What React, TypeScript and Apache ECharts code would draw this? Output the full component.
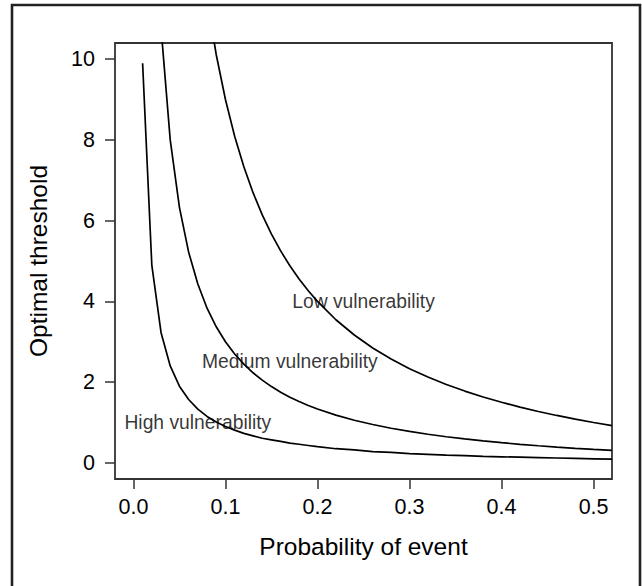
import React, { useEffect, useRef } from "react";
import * as echarts from "echarts";

// Probability of event (x values)
const probabilities = [
  0.01, 0.02, 0.03, 0.04, 0.05, 0.06, 0.07, 0.08, 0.09, 0.1,
  0.11, 0.12, 0.13, 0.14, 0.15, 0.16, 0.17, 0.18, 0.19, 0.2,
  0.22, 0.24, 0.26, 0.28, 0.3, 0.32, 0.34, 0.36, 0.38, 0.4,
  0.42, 0.44, 0.46, 0.48, 0.5, 0.52,
];

// Optimal threshold
const highVulnerability = [
  9.9, 4.9, 3.23, 2.4, 1.9, 1.57, 1.33, 1.15, 1.01, 0.9,
  0.81, 0.73, 0.67, 0.61, 0.57, 0.53, 0.49, 0.46, 0.43, 0.4,
  0.35, 0.32, 0.28, 0.26, 0.23, 0.21, 0.19, 0.18, 0.16, 0.15,
  0.14, 0.13, 0.12, 0.11, 0.1, 0.09,
];
const mediumVulnerability = [
  33.0, 16.33, 10.78, 8.0, 6.33, 5.22, 4.43, 3.83, 3.37, 3.0,
  2.697, 2.444, 2.231, 2.048, 1.889, 1.75, 1.627, 1.519, 1.421, 1.333,
  1.182, 1.056, 0.949, 0.857, 0.778, 0.708, 0.647, 0.593, 0.544, 0.5,
  0.46, 0.424, 0.391, 0.361, 0.333, 0.308,
];
const lowVulnerability = [
  99, 49, 32.33, 24, 19, 15.67, 13.29, 11.5, 10.11, 9.0,
  8.091, 7.333, 6.692, 6.143, 5.667, 5.25, 4.882, 4.556, 4.263, 4.0,
  3.545, 3.167, 2.846, 2.571, 2.333, 2.125, 1.941, 1.778, 1.632, 1.5,
  1.381, 1.273, 1.174, 1.083, 1.0, 0.923,
];

// Curve labels
const labelNames = ["Low vulnerability", "Medium vulnerability", "High vulnerability"];
const labelX = [0.25, 0.17, 0.07];
const labelY = [4, 2.5, 1];

// Tick values
const xTicks = [0, 0.1, 0.2, 0.3, 0.4, 0.5];
const yTicks = [0, 2, 4, 6, 8, 10];

const FONT = "'Liberation Sans', Arial, Helvetica, sans-serif";

export default function App() {
  const ref = useRef<HTMLDivElement>(null);

  useEffect(() => {
    if (!ref.current) return;
    const chart = echarts.init(ref.current, undefined, { renderer: "svg" });

    const toPairs = (ys: number[]) => probabilities.map((p, i) => [p, ys[i]]);
    const lineSeries = (name: string, ys: number[]) => ({
      name,
      type: "line",
      data: toPairs(ys),
      showSymbol: false,
      symbol: "none",
      clip: true,
      smooth: false,
      lineStyle: { color: "#000", width: 1.7 },
      z: 3,
    });

    chart.setOption({
      animation: false,
      backgroundColor: "#fff",
      textStyle: { fontFamily: FONT },
      grid: {
        left: 115,
        right: 30,
        top: 43,
        bottom: 107,
        show: true,
        borderColor: "#333",
        borderWidth: 1.8,
        backgroundColor: "transparent",
      },
      xAxis: {
        type: "value",
        min: -0.02,
        max: 0.52,
        name: "Probability of event",
        nameLocation: "middle",
        nameGap: 55,
        nameTextStyle: { fontSize: 24.5, color: "#000", fontFamily: FONT },
        axisLine: { show: false, onZero: false },
        splitLine: { show: false },
        axisTick: {
          show: true,
          customValues: xTicks,
          length: 10,
          inside: false,
          lineStyle: { color: "#333", width: 1.5 },
        },
        axisLabel: {
          show: true,
          customValues: xTicks,
          formatter: (v: number) => v.toFixed(1),
          fontSize: 21.5,
          color: "#000",
          fontFamily: FONT,
          margin: 17,
        },
      },
      yAxis: {
        type: "value",
        min: -0.4,
        max: 10.4,
        name: "Optimal threshold",
        nameLocation: "middle",
        nameGap: 64,
        nameRotate: 90,
        nameTextStyle: { fontSize: 24.5, color: "#000", fontFamily: FONT },
        axisLine: { show: false, onZero: false },
        splitLine: { show: false },
        axisTick: {
          show: true,
          customValues: yTicks,
          length: 10,
          inside: false,
          lineStyle: { color: "#333", width: 1.5 },
        },
        axisLabel: {
          show: true,
          customValues: yTicks,
          formatter: (v: number) => String(v),
          fontSize: 21.5,
          color: "#000",
          fontFamily: FONT,
          margin: 20,
        },
      },
      series: [
        lineSeries("High vulnerability", highVulnerability),
        lineSeries("Medium vulnerability", mediumVulnerability),
        lineSeries("Low vulnerability", lowVulnerability),
        {
          type: "scatter",
          symbolSize: 0,
          itemStyle: { color: "#000" },
          data: labelNames.map((n, i) => ({ name: n, value: [labelX[i], labelY[i]] })),
          label: {
            show: true,
            position: "inside",
            formatter: (p: any) => p.name,
            fontSize: 19.3,
            color: "#000",
            textBorderWidth: 0,
            textBorderColor: "transparent",
            fontFamily: FONT,
            align: "center",
            verticalAlign: "middle",
          },
          z: 5,
        },
      ],
      graphic: [
        {
          type: "rect",
          shape: { x: 12, y: 5, width: 628, height: 600 },
          style: { fill: "none", stroke: "#222", lineWidth: 2.6 },
          silent: true,
        },
      ],
    });

    return () => chart.dispose();
  }, []);

  return (
    <div
      ref={ref}
      style={{ position: "fixed", left: 0, top: 0, width: 642, height: 586 }}
    />
  );
}
